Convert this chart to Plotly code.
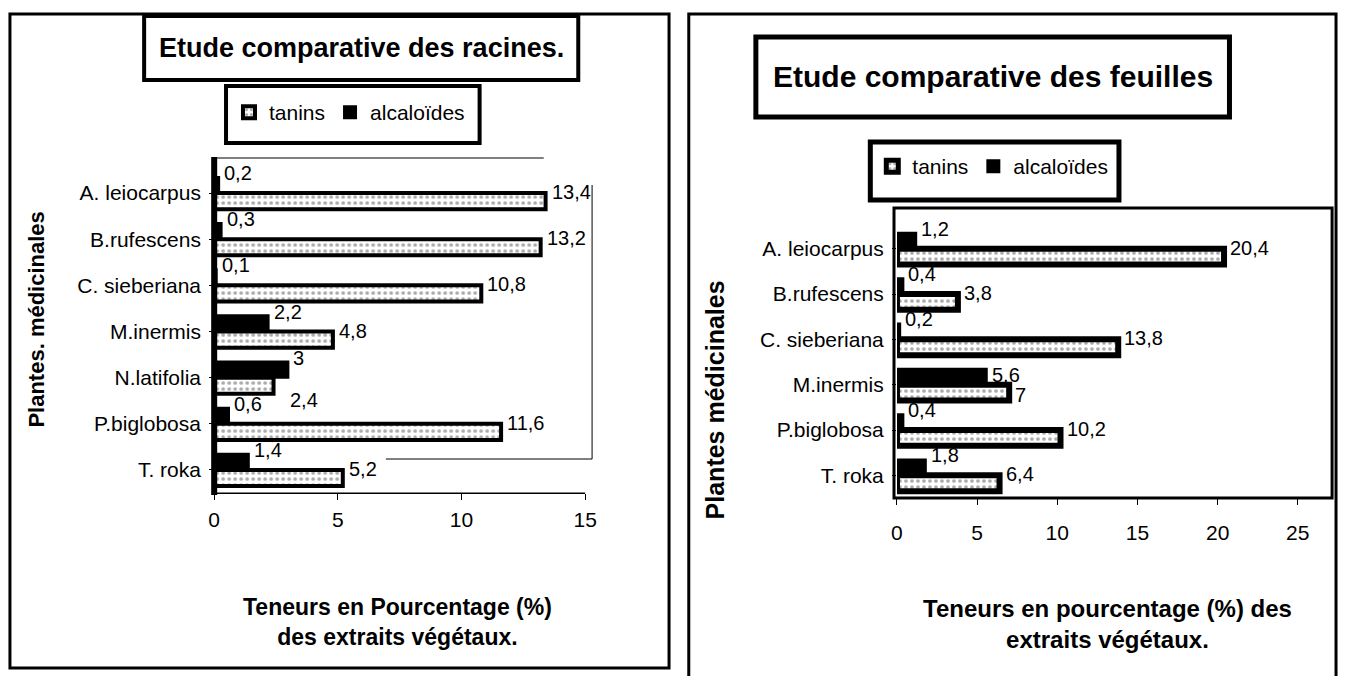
import plotly.graph_objects as go

# ---------------- data ----------------
racines_plantes = ["A. leiocarpus", "B.rufescens", "C. sieberiana", "M.inermis",
                   "N.latifolia", "P.biglobosa", "T. roka"]
racines_tanins = [13.4, 13.2, 10.8, 4.8, 2.4, 11.6, 5.2]
racines_alcaloides = [0.2, 0.3, 0.1, 2.2, 3.0, 0.6, 1.4]

feuilles_plantes = ["A. leiocarpus", "B.rufescens", "C. sieberiana", "M.inermis",
                    "P.biglobosa", "T. roka"]
feuilles_tanins = [20.4, 3.8, 13.8, 7.0, 10.2, 6.4]
feuilles_alcaloides = [1.2, 0.4, 0.2, 5.6, 0.4, 1.8]

racines_ticks = [0, 5, 10, 15]
feuilles_ticks = [0, 5, 10, 15, 20, 25]

# label placement tweaks (pixel shifts, not data)
LABEL_SHIFT = {
    ("x", "tanins", "N.latifolia"): (14, -22),
    ("x2", "alcaloïdes", "M.inermis"): (3, 10),
    ("x2", "tanins", "M.inermis"): (4, -10),
}

W, H = 1350, 676
FONT = "Liberation Sans, Arial, sans-serif"


def px(x):
    return x / W


def py(y):
    return 1 - y / H


def fmt(v):
    return ("%g" % v).replace(".", ",")


fig = go.Figure()

LBL = 21
DLBL = 20


def tan_marker(w):
    return dict(color="white", line=dict(color="black", width=w),
                pattern=dict(shape=".", fgcolor="#555", bgcolor="white", size=6, solidity=0.3))


alc_marker = dict(color="black", line=dict(color="black", width=2))

series = [
    ("x", "y", "legend", racines_plantes, racines_alcaloides, racines_tanins, 4),
    ("x2", "y2", "legend2", feuilles_plantes, feuilles_alcaloides, feuilles_tanins, 6),
]

ann = []
for xa, ya, lg, cats, alc, tan, tw in series:
    fig.add_trace(go.Bar(y=cats, x=alc, name="alcaloïdes", orientation="h",
                         marker=alc_marker, xaxis=xa, yaxis=ya, legend=lg))
    fig.add_trace(go.Bar(y=cats, x=tan, name="tanins", orientation="h",
                         marker=tan_marker(tw), xaxis=xa, yaxis=ya, legend=lg))
    for name, vals, default in (("alcaloïdes", alc, (3, 20)), ("tanins", tan, (4, 1))):
        for c, v in zip(cats, vals):
            dx, dy = LABEL_SHIFT.get((xa, name, c), default)
            ann.append(dict(x=v, y=c, xref=xa, yref=ya, text=fmt(v), showarrow=False,
                            xanchor="left", yanchor="middle", xshift=dx, yshift=dy,
                            font=dict(size=DLBL, color="black", family=FONT)))

axis_font = dict(size=LBL, color="black", family=FONT)
leg_font = dict(size=LBL, family=FONT, color="black")

fig.update_layout(
    width=W, height=H,
    margin=dict(l=0, r=0, t=0, b=0),
    paper_bgcolor="white", plot_bgcolor="white",
    barmode="group", bargap=0.3, bargroupgap=0.0,
    font=dict(family=FONT, color="black"),
    xaxis=dict(domain=[px(211), px(587)], range=[0, 15], tickvals=racines_ticks,
               anchor="y", showgrid=False, zeroline=False, showline=True, linecolor="black",
               linewidth=1, ticks="outside", ticklen=6, tickcolor="black",
               tickfont=axis_font, ticklabelstandoff=2),
    yaxis=dict(domain=[py(493), py(170)], range=[len(racines_plantes) - 0.5, -0.5],
               categoryorder="array", categoryarray=racines_plantes, anchor="x",
               showgrid=False, showline=False, ticks="outside", ticklen=4,
               tickcolor="black", tickfont=axis_font, ticklabelstandoff=4),
    xaxis2=dict(domain=[px(903), px(1345)], range=[0, 27.2], tickvals=feuilles_ticks,
                anchor="y2", showgrid=False, zeroline=False, showline=False,
                ticks="outside", ticklen=6, tickcolor="black",
                tickfont=axis_font, ticklabelstandoff=10),
    yaxis2=dict(domain=[py(498), py(226)], range=[len(feuilles_plantes) - 0.5, -0.5],
                categoryorder="array", categoryarray=feuilles_plantes, anchor="x2",
                showgrid=False, showline=False, ticks="outside",
                ticklen=4, tickcolor="black", tickfont=axis_font, ticklabelstandoff=4),
    legend=dict(x=px(226), y=py(92), xanchor="left", yanchor="top", orientation="h",
                traceorder="reversed", bgcolor="rgba(0,0,0,0)", borderwidth=0,
                font=leg_font, itemwidth=30, tracegroupgap=0),
    legend2=dict(x=px(878), y=py(146), xanchor="left", yanchor="top", orientation="h",
                 traceorder="reversed", bgcolor="rgba(0,0,0,0)", borderwidth=0,
                 font=leg_font, itemwidth=30, tracegroupgap=0),
)

shapes = []


def rect(x0, y0, x1, y1, w=3):
    shapes.append(dict(type="rect", xref="paper", yref="paper",
                       x0=px(x0), x1=px(x1), y0=py(y1), y1=py(y0),
                       line=dict(color="black", width=w), fillcolor="rgba(0,0,0,0)",
                       layer="below"))


def line(x0, y0, x1, y1, w=1):
    shapes.append(dict(type="line", xref="paper", yref="paper", x0=px(x0), x1=px(x1),
                       y0=py(y0), y1=py(y1), line=dict(color="black", width=w)))


# outer panel frames
rect(4, 14, 672, 668, 3)
rect(692, 14, 1348, 690, 3)
# title boxes
rect(140, 16, 580, 80, 4)
rect(760, 37, 1240, 117, 5)
# legend boxes
rect(223, 86, 480, 143, 4)
rect(876, 142, 1128, 200, 5)
# left chart: 3D wall and floor edges
line(211, 157, 211, 495, 6)
line(211, 493, 587, 493, 1)
line(211, 158, 545, 158)
line(385, 459, 594, 459)
line(594, 459, 594, 185)
# right chart: plot frame
rect(900, 208, 1344, 498, 3)

fig.update_layout(shapes=shapes)


def text(t, x, y, size, angle=0):
    ann.append(dict(text=t, x=px(x), y=py(y), xref="paper", yref="paper", showarrow=False,
                    xanchor="center", yanchor="middle", textangle=angle, align="center",
                    font=dict(size=size, family=FONT, color="black")))


text("<b>Etude comparative des racines.</b>", 360, 48, 27)
text("<b>Etude comparative des feuilles</b>", 1000, 77, 30)
text("<b>Teneurs en Pourcentage (%)<br>des extraits végétaux.</b>", 397, 622, 23)
text("<b>Teneurs en pourcentage (%) des<br>extraits végétaux.</b>", 1116, 624, 24)
text("<b>Plantes. médicinales</b>", 30, 320, 22, -90)
text("<b>Plantes médicinales</b>", 719, 400, 25, -90)
fig.update_layout(annotations=ann)

fig.write_html("out.html", config={"displayModeBar": False},
               post_script="document.body.style.margin='0';document.body.style.overflow='hidden';")
